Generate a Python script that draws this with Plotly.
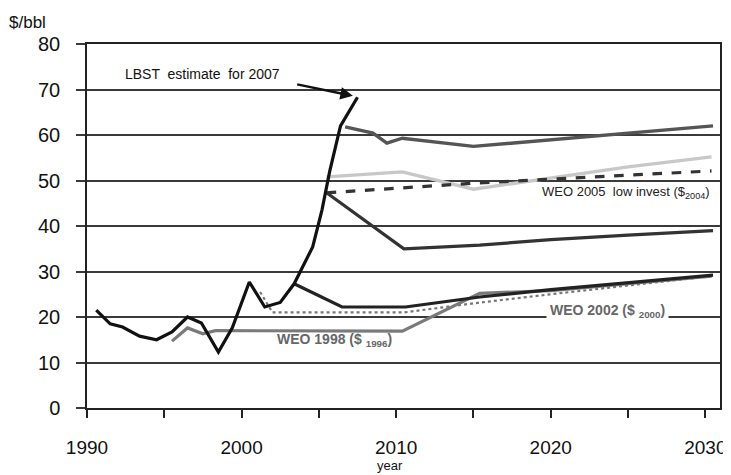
import plotly.graph_objects as go

# ---- data ----
hist_years = [1990.6, 1991.5, 1992.3, 1993.4, 1994.5, 1995.5, 1996.5, 1997.4, 1998.5, 1999.4,
              2000.5, 2001.5, 2002.5, 2003.4, 2004.6, 2005.2, 2005.7, 2006.4, 2007.5]
hist_vals = [21.5, 18.5, 17.8, 15.8, 15.0, 16.7, 20.0, 18.7, 12.3, 17.6,
             27.7, 22.2, 23.2, 27.3, 35.4, 43.5, 52.0, 62.0, 68.3]

weo06_years = [2006.7, 2008.5, 2009.4, 2010.4, 2015.0, 2020.0, 2025.0, 2030.5]
weo06_vals = [61.8, 60.4, 58.2, 59.3, 57.5, 59.0, 60.5, 62.0]

weo05_years = [2005.5, 2010.4, 2015.0, 2020.0, 2025.0, 2030.4]
weo05_vals = [50.8, 51.9, 48.1, 50.5, 53.0, 55.2]

weo05low_years = [2005.5, 2010.4, 2015.0, 2020.0, 2025.0, 2030.4]
weo05low_vals = [47.3, 48.4, 49.4, 50.3, 51.2, 52.1]

weo04_years = [2005.5, 2010.5, 2015.4, 2020.0, 2025.0, 2030.5]
weo04_vals = [47.3, 35.0, 35.8, 37.0, 38.0, 39.0]

weo03_years = [2003.4, 2006.5, 2010.6, 2012.6, 2015.4, 2020.0, 2025.0, 2030.5]
weo03_vals = [27.3, 22.2, 22.2, 23.1, 24.4, 26.0, 27.6, 29.2]

weo98_years = [1995.5, 1996.5, 1997.5, 1998.3, 2010.4, 2015.4, 2020.0, 2025.0, 2030.4]
weo98_vals = [14.7, 17.6, 16.3, 17.0, 16.9, 25.2, 25.8, 27.4, 29.0]

weo02_years = [2001.2, 2002.0, 2010.5, 2015.0, 2020.0, 2025.0, 2030.4]
weo02_vals = [25.5, 21.0, 21.0, 23.0, 25.0, 27.0, 29.0]

x_tick_vals = [1990, 1995, 2000, 2005, 2010, 2015, 2020, 2025, 2030]
x_tick_text = ["1990", "", "2000", "", "2010", "", "2020", "", "2030"]
y_tick_vals = [0, 10, 20, 30, 40, 50, 60, 70, 80]

FONT = "Arial, Liberation Sans, sans-serif"

fig = go.Figure()

def add(xs, ys, color, width=3, dash="solid"):
    fig.add_trace(go.Scatter(x=xs, y=ys, mode="lines",
                             line=dict(color=color, width=width, dash=dash),
                             showlegend=False, hoverinfo="skip", cliponaxis=False))

add(weo98_years, weo98_vals, "#7a7a7a", 3.2)
add(weo02_years, weo02_vals, "#777777", 2.2, "dot")
add(weo03_years, weo03_vals, "#222222", 3.2)
add(weo05_years, weo05_vals, "#c8c8c8", 3.4)
add(weo05low_years, weo05low_vals, "#333333", 3.2, "dash")
add(weo04_years, weo04_vals, "#333333", 3.2)
add(weo06_years, weo06_vals, "#555555", 3.4)
add(hist_years, hist_vals, "#111111", 3.2)

annotations = [
    dict(x=2007.2, y=68.6, ax=2003.5, ay=71.2, xref="x", yref="y", axref="x", ayref="y",
         text="", showarrow=True, arrowhead=2, arrowsize=1, arrowwidth=2.5, arrowcolor="#111111"),
    dict(x=1997.5, y=73.4, xref="x", yref="y", text="LBST  estimate  for 2007",
         showarrow=False, font=dict(family=FONT, size=14, color="#111111")),
    dict(x=2030.4, y=47.3, xref="x", yref="y", xanchor="right",
         text="WEO 2005  low invest ($<sub>2004</sub>)",
         showarrow=False, font=dict(family=FONT, size=13, color="#222222")),
    dict(x=2023.7, y=21.3, xref="x", yref="y",
         text="<b>WEO 2002 ($ <sub>2000</sub>)</b>", bgcolor="white", borderpad=3,
         showarrow=False, font=dict(family=FONT, size=14, color="#666666")),
    dict(x=2006.0, y=14.9, xref="x", yref="y",
         text="<b>WEO 1998 ($ <sub>1996</sub>)</b>",
         showarrow=False, font=dict(family=FONT, size=14, color="#666666")),
    dict(x=-0.126, y=1.058, xref="paper", yref="paper", xanchor="left", yanchor="middle",
         text="$/bbl", showarrow=False, font=dict(family=FONT, size=17, color="#111111")),
    dict(x=0.479, y=-0.158, xref="paper", yref="paper", xanchor="center", yanchor="middle",
         text="year", showarrow=False, font=dict(family=FONT, size=13, color="#111111")),
]

# page body has an 8px margin: the figure is sized/offset so the plot box lands where the reference has it
fig.update_layout(
    width=723, height=467,
    margin=dict(l=79, r=11, t=36, b=67, autoexpand=False),
    paper_bgcolor="white", plot_bgcolor="white",
    font=dict(family=FONT, color="#111111"),
    annotations=annotations,
    xaxis=dict(range=[1990, 2030.95], tickvals=x_tick_vals, ticktext=x_tick_text,
               automargin=False,
               showgrid=False, zeroline=False, showline=True, linecolor="#222222", linewidth=1.5,
               mirror=True, ticks="outside", ticklen=8, tickwidth=1.5, tickcolor="#222222",
               tickfont=dict(family=FONT, size=19, color="#111111"), ticklabelstandoff=13),
    yaxis=dict(range=[0, 80], tickvals=y_tick_vals, automargin=False,
               showgrid=True, gridcolor="#3a3a3a", gridwidth=1.5, zeroline=False,
               showline=True, linecolor="#222222", linewidth=1.5, mirror=True,
               ticks="outside", ticklen=9, tickwidth=1.5, tickcolor="#3a3a3a",
               tickfont=dict(family=FONT, size=20, color="#111111"), ticklabelstandoff=12),
)

fig.write_html("out.html")
